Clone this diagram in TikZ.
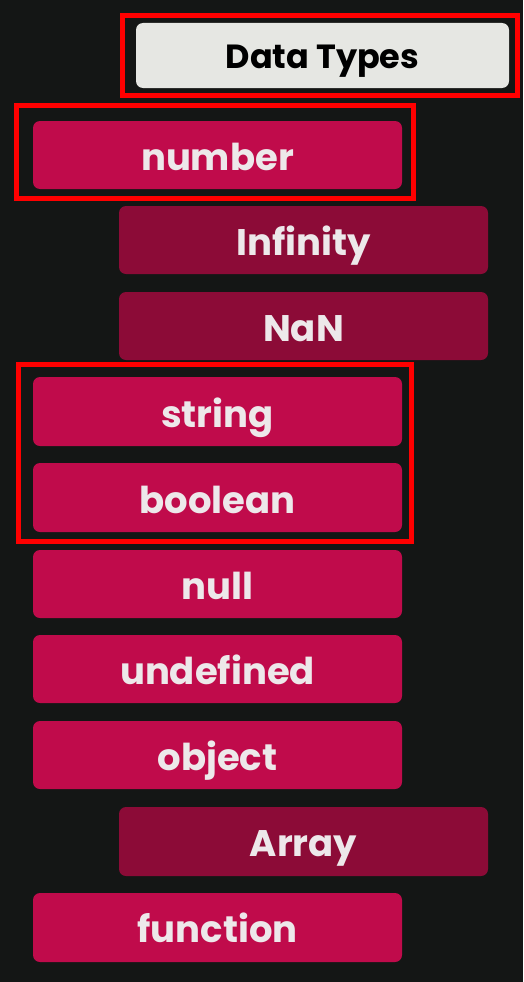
\documentclass[tikz,border=0pt]{standalone}
\usepackage{fontspec}
\setmainfont{Poppins}
\definecolor{bgc}{HTML}{141615}
\definecolor{pinkc}{HTML}{C00B4B}
\definecolor{darkpinkc}{HTML}{8C0B37}
\definecolor{titlec}{HTML}{E6E7E3}
\definecolor{textc}{HTML}{EDE8EA}
\definecolor{framec}{HTML}{FF0000}
\tikzset{
  main/.style={fill=pinkc, rounded corners=7pt},
  sub/.style={fill=darkpinkc, rounded corners=7pt},
  lbl/.style={text=textc, font=\fontsize{37}{42}\selectfont\bfseries, inner sep=0pt, anchor=base},
  frame/.style={draw=framec, line width=5pt},
}
\begin{document}
\begin{tikzpicture}[x=1pt,y=-1pt]
\fill[bgc] (0,0) rectangle (523,982);
\useasboundingbox (0,0) rectangle (523,982);
% title
\fill[titlec, rounded corners=7pt] (136,23) rectangle (509,88);
\node[lbl, text=black, font=\fontsize{33.5}{38}\selectfont\bfseries] (title) at (322.5,68) {Data Types};
% rows
\fill[main] (33,121) rectangle (402,189);
\node[lbl] (number) at (217.5,170) {number};
\fill[sub] (119,206) rectangle (488,274);
\node[lbl] (infinity) at (303.5,255) {Infinity};
\fill[sub] (119,292) rectangle (488,360);
\node[lbl] (nan) at (303.5,341) {NaN};
\fill[main] (33,377) rectangle (402,446);
\node[lbl] (string) at (217.5,427) {string};
\fill[main] (33,463) rectangle (402,532);
\node[lbl] (boolean) at (217.5,513) {boolean};
\fill[main] (33,550) rectangle (402,618);
\node[lbl] (null) at (217.5,599) {null};
\fill[main] (33,635) rectangle (402,703);
\node[lbl] (undefined) at (217.5,684) {undefined};
\fill[main] (33,721) rectangle (402,789);
\node[lbl] (object) at (217.5,770) {object};
\fill[sub] (119,807) rectangle (488,876);
\node[lbl] (array) at (303.5,856) {Array};
\fill[main] (33,893) rectangle (402,962);
\node[lbl] (function) at (217.5,942) {function};
% red frames
\draw[frame] (122.5,15.5) rectangle (517.5,95.5);
\draw[frame] (16.5,105.5) rectangle (413.5,198.5);
\draw[frame] (18.5,364.5) rectangle (411.5,541.5);
\end{tikzpicture}
\end{document}
